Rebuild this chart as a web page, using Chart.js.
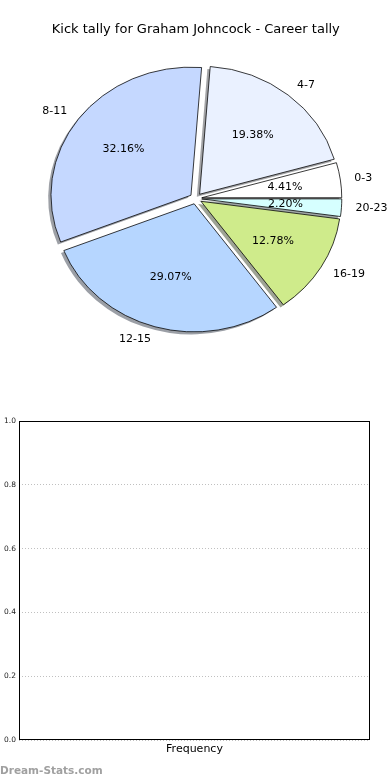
<!DOCTYPE html>
<html>
<head>
<meta charset="utf-8">
<script src="https://cdn.jsdelivr.net/npm/chart.js@4.4.1/dist/chart.umd.min.js"></script>
<style>
  body { margin: 0; background: #fff; width: 390px; height: 780px; position: relative; overflow: hidden; }
  #kick-pie { position: absolute; left: 0; top: 0; }
  #kick-freq { position: absolute; left: 0; top: 400px; }
  #watermark { position: absolute; left: 0; top: 764px; font: bold 10.5px "DejaVu Sans", sans-serif; color: #a0a0a0; }
</style>
</head>
<body>
<canvas id="kick-pie" width="390" height="400"></canvas>
<canvas id="kick-freq" width="390" height="380"></canvas>
<div id="watermark">Dream-Stats.com</div>
<script>
// Kick tally ranges and their share of career kicks (%)
const categories = ['0-3', '4-7', '8-11', '12-15', '16-19', '20-23'];
const percentages = [4.41, 19.38, 32.16, 29.07, 12.78, 2.20];
const sliceColors = ['#ffffff', '#eaf1ff', '#c5d8ff', '#b6d6ff', '#cfeb8b', '#d6ffff'];

// Frequency panel (empty in the original)
const freqValues = [];
const yTickValues = [0.0, 0.2, 0.4, 0.6, 0.8, 1.0];

const PIE_RADIUS = 140;
const SQUASH = 0.915;   // the pie is drawn slightly flattened
const EXPLODE = 6;      // px each wedge is pushed out along its middle

/**
 * Matplotlib draws the wedges counter-clockwise from 3 o'clock,
 * chart.js goes clockwise, so feed it the reversed order.
 */
const pieLabels = categories.slice().reverse();
const pieValues = percentages.slice().reverse();
const pieColors = sliceColors.slice().reverse();

function shadeOf(hex) {
  const n = parseInt(hex.slice(1), 16);
  const r = Math.round(((n >> 16) & 255) * 0.3);
  const g = Math.round(((n >> 8) & 255) * 0.3);
  const b = Math.round((n & 255) * 0.3);
  return 'rgba(' + r + ',' + g + ',' + b + ',0.5)';
}

const flattenPie = {
  id: 'flattenPie',
  afterDatasetsUpdate(chart) {
    // explode: move every wedge's own centre out along its middle angle
    const arcs = chart.getDatasetMeta(0).data;
    arcs.forEach(arc => {
      const mid = (arc.startAngle + arc.endAngle) / 2;
      arc.baseX = arc.x;
      arc.baseY = arc.y;
      arc.x += Math.cos(mid) * EXPLODE;
      arc.y += Math.sin(mid) * EXPLODE;
    });
  },
  beforeDatasetsDraw(chart) {
    const ctx = chart.ctx;
    const arcs = chart.getDatasetMeta(0).data;
    if (!arcs.length) return;
    const cx = arcs[0].baseX, cy = arcs[0].baseY;
    ctx.save();
    ctx.translate(cx, cy);
    ctx.scale(1, SQUASH);
    ctx.translate(-cx, -cy);

    // shadows under every wedge
    const shift = PIE_RADIUS * 0.02;
    arcs.forEach((arc, i) => {
      const x = arc.x - shift;
      const y = arc.y + shift;
      ctx.beginPath();
      ctx.moveTo(x, y);
      ctx.arc(x, y, arc.outerRadius, arc.startAngle, arc.endAngle);
      ctx.closePath();
      ctx.fillStyle = shadeOf(pieColors[i]);
      ctx.fill();
    });
  },
  afterDatasetsDraw(chart) {
    const ctx = chart.ctx;
    ctx.restore();
    const arcs = chart.getDatasetMeta(0).data;
    ctx.save();
    ctx.font = '11px "DejaVu Sans"';
    ctx.fillStyle = '#000';
    ctx.textBaseline = 'middle';
    arcs.forEach((arc, i) => {
      const mid = (arc.startAngle + arc.endAngle) / 2;
      const ex = arc.x;
      const ey = arc.baseY + (arc.y - arc.baseY) * SQUASH;
      const c = Math.cos(mid), s = Math.sin(mid) * SQUASH;

      ctx.textAlign = c > 0 ? 'left' : 'right';
      ctx.fillText(pieLabels[i], ex + 1.1 * PIE_RADIUS * c, ey + 1.1 * PIE_RADIUS * s);

      ctx.textAlign = 'center';
      ctx.fillText(pieValues[i].toFixed(2) + '%', ex + 0.6 * PIE_RADIUS * c, ey + 0.6 * PIE_RADIUS * s);
    });
    ctx.restore();
  }
};

const frameBox = {
  id: 'frameBox',
  afterDraw(chart) {
    const {ctx, chartArea} = chart;
    ctx.save();
    ctx.strokeStyle = '#000';
    ctx.lineWidth = 1;
    ctx.strokeRect(chartArea.left + 0.5, chartArea.top + 0.5,
      chartArea.right - chartArea.left - 1, chartArea.bottom - chartArea.top - 1);
    ctx.restore();
  }
};

document.addEventListener('DOMContentLoaded', function () {
  const pieChart = new Chart(document.querySelector('#kick-pie'), {
    type: 'pie',
    data: {
      labels: pieLabels,
      datasets: [{
        data: pieValues,
        backgroundColor: pieColors,
        borderColor: '#000',
        borderWidth: 0.8,
        clip: false
      }]
    },
    options: {
      responsive: false,
      animation: false,
      events: [],
      rotation: 90,
      radius: PIE_RADIUS,
      layout: { padding: { left: 1.6, top: 0, right: 0, bottom: 52.6 } },
      plugins: {
        legend: { display: false },
        tooltip: { enabled: false },
        title: {
          display: true,
          text: 'Kick tally for Graham Johncock - Career tally',
          color: '#000',
          font: { family: 'DejaVu Sans', size: 13, weight: 'normal' },
          padding: { top: 22, bottom: 12 }
        }
      }
    },
    plugins: [flattenPie]
  });

  const freqChart = new Chart(document.querySelector('#kick-freq'), {
    type: 'bar',
    data: {
      datasets: [{ label: 'Frequency', data: freqValues, backgroundColor: '#b6d6ff' }]
    },
    options: {
      responsive: false,
      animation: false,
      events: [],
      layout: { padding: { left: 0, top: 21, right: 20, bottom: 0 } },
      plugins: { legend: { display: false }, tooltip: { enabled: false } },
      scales: {
        x: {
          type: 'linear',
          min: 0,
          max: 1,
          grid: { display: false },
          border: { display: false },
          ticks: { display: false },
          title: {
            display: true,
            text: 'Frequency',
            color: '#000',
            font: { family: 'DejaVu Sans', size: 11 },
            padding: { top: 0, bottom: 24 }
          },
          afterFit(scale) { scale.height = 40; }
        },
        y: {
          min: 0,
          max: 1,
          afterBuildTicks(scale) {
            scale.ticks = yTickValues.map(v => ({ value: v }));
          },
          ticks: {
            padding: 3,
            color: '#222',
            font: { family: 'DejaVu Sans', size: 7.5 },
            callback: v => Number(v).toFixed(1)
          },
          grid: { color: '#c0c0c0', drawTicks: false },
          border: { display: false, dash: [1, 2] },
          afterFit(scale) { scale.width = 19; }
        }
      }
    },
    plugins: [frameBox]
  });
});
</script>
</body>
</html>
